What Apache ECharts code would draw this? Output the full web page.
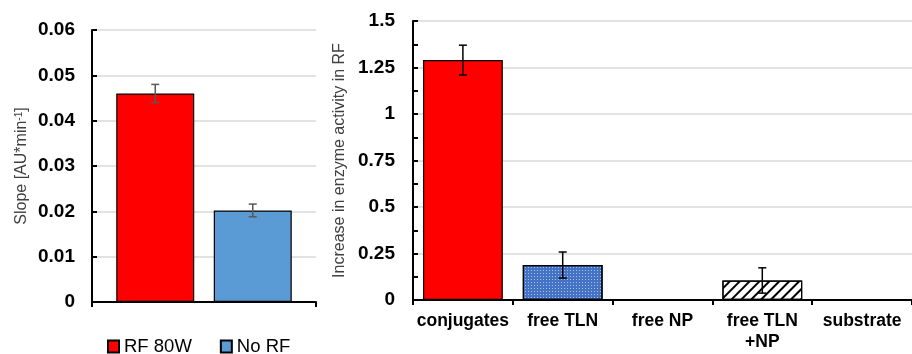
<!DOCTYPE html>
<html>
<head>
<meta charset="utf-8">
<script src="https://cdn.jsdelivr.net/npm/echarts@6/dist/echarts.min.js"></script>
<style>
  html, body { margin: 0; padding: 0; background: #fff; }
  #main { width: 912px; height: 354px; }
</style>
</head>
<body>
<div id="main"></div>
<script>
// Left panel: slope
const slopeNames = ['RF 80W', 'No RF']
const slopeValues = [0.046, 0.0202]
const slopeErrors = [0.002, 0.0014]

// Right panel: increase in enzyme activity
const activityCats = ['conjugates', 'free TLN', 'free NP', 'free TLN\n+NP', 'substrate']
const activityValues = [1.29, 0.188, 0, 0.105, 0]
const activityErrors = [0.08, 0.07, 0, 0.068, 0]

const chart = echarts.init(document.getElementById('main'))

const font = 'Liberation Sans, Arial, sans-serif'
const barW = 78
const barGapPx = 19.5

// error bar drawn at category center plus pixel offset
function errorBar(offset, color) {
  return function (params, api) {
    const x = api.coord([api.value(0), 0])[0] + offset
    const lo = api.coord([0, api.value(1)])[1]
    const hi = api.coord([0, api.value(2)])[1]
    const style = { stroke: color, lineWidth: 1.5 }
    return {
      type: 'group',
      children: [
        { type: 'line', shape: { x1: x, y1: lo, x2: x, y2: hi }, style },
        { type: 'line', shape: { x1: x - 4, y1: lo, x2: x + 4, y2: lo }, style },
        { type: 'line', shape: { x1: x - 4, y1: hi, x2: x + 4, y2: hi }, style },
      ],
    }
  }
}

const activityColors = ['#FF0000', '#4472C4', '#FFFFFF', '#FFFFFF', '#FFFFFF']

chart.setOption({
  animation: false,
  textStyle: { fontFamily: font },
  legend: {
    left: 107,
    top: 337,
    padding: 0,
    itemWidth: 11,
    itemHeight: 12,
    itemGap: 28,
    icon: 'rect',
    data: slopeNames,
    textStyle: { fontSize: 18.5, color: '#000', fontFamily: font },
  },
  grid: [
    { left: 92, top: 30, width: 224, height: 272 },
    { left: 413, top: 21, width: 507, height: 279 },
  ],
  xAxis: [
    {
      gridIndex: 0,
      type: 'category',
      data: [''],
      axisLine: { lineStyle: { color: '#000', width: 2 } },
      axisTick: { show: true, length: 5, lineStyle: { color: '#000', width: 2 } },
      axisLabel: { show: false },
    },
    {
      gridIndex: 1,
      type: 'category',
      data: activityCats,
      axisLine: { lineStyle: { color: '#000', width: 2 } },
      axisTick: { show: true, length: 5, lineStyle: { color: '#000', width: 2 } },
      axisLabel: {
        interval: 0,
        color: '#000',
        fontWeight: 'bold',
        fontSize: 17.5,
        lineHeight: 21,
        margin: 11,
        fontFamily: font,
      },
    },
  ],
  yAxis: [
    {
      gridIndex: 0,
      type: 'value',
      min: 0,
      max: 0.06,
      interval: 0.01,
      name: 'Slope [AU*min{sup|-1}]',
      nameLocation: 'middle',
      nameGap: 62,
      nameTextStyle: {
        fontSize: 16,
        color: '#404040',
        fontFamily: font,
        rich: { sup: { fontSize: 10, verticalAlign: 'top', color: '#404040', padding: [0, 0, 6, 0] } },
      },
      axisLine: { show: true, lineStyle: { color: '#000', width: 2 } },
      axisTick: { show: true, inside: true, length: 5, lineStyle: { color: '#000', width: 2 } },
      axisLabel: { color: '#000', fontWeight: 'bold', fontSize: 19, margin: 17, fontFamily: font },
      splitLine: { lineStyle: { color: '#D9D9D9', width: 1.5 } },
    },
    {
      gridIndex: 1,
      type: 'value',
      min: 0,
      max: 1.5,
      interval: 0.25,
      name: 'Increase in enzyme activity in RF',
      nameLocation: 'middle',
      nameGap: 64,
      nameTextStyle: { fontSize: 16, color: '#404040', fontFamily: font },
      axisLine: { show: true, lineStyle: { color: '#000', width: 2 } },
      axisTick: { show: true, inside: true, length: 5, lineStyle: { color: '#000', width: 2 } },
      minorTick: { show: true, splitNumber: 2, length: 5, lineStyle: { color: '#000', width: 2 } },
      axisLabel: { color: '#000', fontWeight: 'bold', fontSize: 19, margin: 18, fontFamily: font },
      splitLine: { lineStyle: { color: '#D9D9D9', width: 1.5 } },
    },
  ],
  series: [
    {
      name: slopeNames[0],
      type: 'bar',
      xAxisIndex: 0,
      yAxisIndex: 0,
      barWidth: barW,
      barGap: (barGapPx / barW * 100) + '%',
      data: [slopeValues[0]],
      itemStyle: { color: '#FF0000', borderColor: '#000', borderWidth: 1.2 },
    },
    {
      name: slopeNames[1],
      type: 'bar',
      xAxisIndex: 0,
      yAxisIndex: 0,
      barWidth: barW,
      data: [slopeValues[1]],
      itemStyle: { color: '#5B9BD5', borderColor: '#000', borderWidth: 1.2 },
    },
    {
      type: 'custom',
      xAxisIndex: 0,
      yAxisIndex: 0,
      renderItem: errorBar(-(barW + barGapPx) / 2, '#595959'),
      data: [[0, slopeValues[0] - slopeErrors[0], slopeValues[0] + slopeErrors[0]]],
      z: 10,
    },
    {
      type: 'custom',
      xAxisIndex: 0,
      yAxisIndex: 0,
      renderItem: errorBar((barW + barGapPx) / 2, '#595959'),
      data: [[0, slopeValues[1] - slopeErrors[1], slopeValues[1] + slopeErrors[1]]],
      z: 10,
    },
    {
      name: 'activity',
      type: 'bar',
      xAxisIndex: 1,
      yAxisIndex: 1,
      barCategoryGap: '20%',
      data: activityValues.map((v, i) => {
        const item = {
          value: v,
          itemStyle: { color: activityColors[i], borderColor: '#000', borderWidth: 1.2 },
        }
        if (i === 1) {
          item.itemStyle.decal = {
            symbol: 'rect',
            symbolSize: 1,
            color: 'rgba(255,255,255,0.55)',
            dashArrayX: [1, 2],
            dashArrayY: [1, 2],
          }
        }
        if (i === 3) {
          item.itemStyle.decal = {
            symbol: 'rect',
            symbolSize: 1,
            color: '#000',
            dashArrayX: [1, 0],
            dashArrayY: [2, 5],
            rotation: -Math.PI / 4,
          }
        }
        if (v === 0) item.itemStyle.borderWidth = 0
        return item
      }),
    },
    {
      type: 'custom',
      xAxisIndex: 1,
      yAxisIndex: 1,
      renderItem: errorBar(0, '#000'),
      data: activityValues
        .map((v, i) => [i, v - activityErrors[i], v + activityErrors[i]])
        .filter((d, i) => activityErrors[i] > 0),
      z: 10,
    },
  ],
})
</script>
</body>
</html>
